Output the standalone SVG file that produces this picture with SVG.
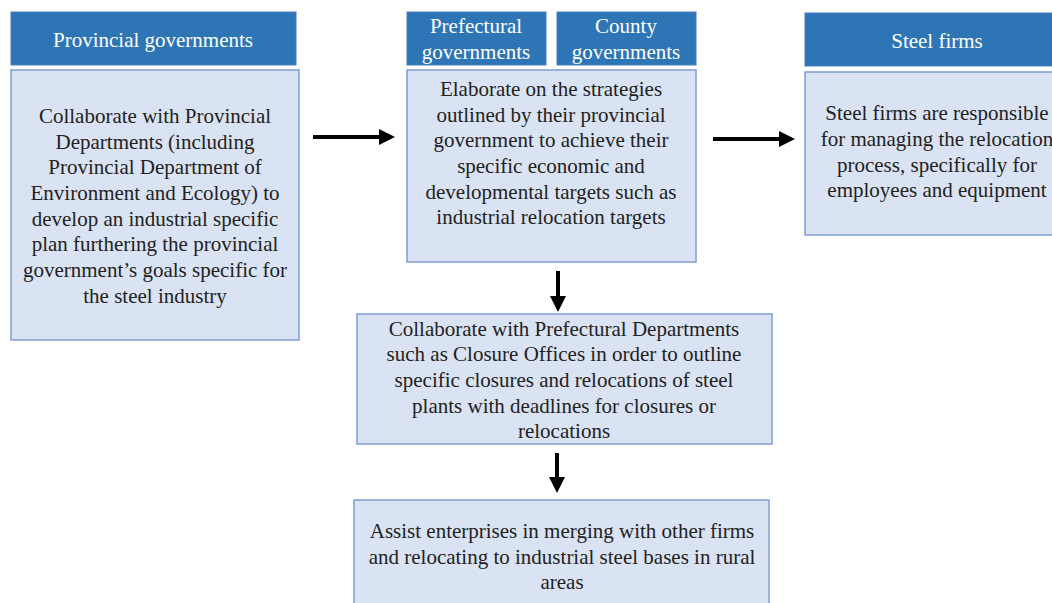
<svg xmlns="http://www.w3.org/2000/svg" width="1052" height="603" viewBox="0 0 1052 603">
<defs>
<style>
.hdr{fill:#2e75b6;stroke:#4a7fbf;stroke-width:1}
.body{fill:#dae3f3;stroke:#7f9fd2;stroke-width:1.5}
.ht{font-family:'Liberation Serif','Times New Roman',Tinos,'DejaVu Serif',serif;font-size:21px;fill:#ffffff;text-anchor:middle}
.bt{font-family:'Liberation Serif','Times New Roman',Tinos,'DejaVu Serif',serif;font-size:21px;fill:#222222;text-anchor:middle}
.arr{stroke:#000;stroke-width:4;fill:none;marker-end:url(#ah)}
</style>
<marker id="ah" markerWidth="4" markerHeight="4" refX="1" refY="2" orient="auto" markerUnits="strokeWidth">
<path d="M0,0 L4,2 L0,4 Z" fill="#000"/>
</marker>
</defs>
<rect width="1052" height="603" fill="#ffffff"/>
<g id="provincial">
<rect class="hdr" x="11" y="12" width="285" height="53"/>
<text class="ht" x="153" y="47">Provincial governments</text>
<rect class="body" x="11" y="70" width="288" height="270"/>
<text class="bt" x="155" y="123">Collaborate with Provincial</text>
<text class="bt" x="155" y="149">Departments (including</text>
<text class="bt" x="155" y="174">Provincial Department of</text>
<text class="bt" x="155" y="200">Environment and Ecology)  to</text>
<text class="bt" x="155" y="226">develop an industrial specific</text>
<text class="bt" x="155" y="251">plan furthering the provincial</text>
<text class="bt" x="155" y="277">government’s goals specific for</text>
<text class="bt" x="155" y="303">the steel industry</text>
</g>
<g id="prefectural">
<rect class="hdr" x="407" y="12" width="139" height="53"/>
<text class="ht" x="476" y="33">Prefectural</text>
<text class="ht" x="476" y="59">governments</text>
</g>
<g id="county">
<rect class="hdr" x="557" y="12" width="139" height="53"/>
<text class="ht" x="626" y="33">County</text>
<text class="ht" x="626" y="59">governments</text>
</g>
<g id="local-body">
<rect class="body" x="407" y="70" width="289" height="192"/>
<text class="bt" x="551" y="96">Elaborate on the strategies</text>
<text class="bt" x="551" y="122">outlined by their provincial</text>
<text class="bt" x="551" y="147">government to achieve their</text>
<text class="bt" x="551" y="173">specific economic and</text>
<text class="bt" x="551" y="199">developmental targets such as</text>
<text class="bt" x="551" y="224">industrial relocation targets</text>
</g>
<g id="steel">
<rect class="hdr" x="805" y="13" width="260" height="53"/>
<text class="ht" x="937" y="48">Steel firms</text>
<rect class="body" x="805" y="72" width="260" height="163"/>
<text class="bt" x="937" y="120">Steel firms are responsible</text>
<text class="bt" x="937" y="146">for managing the relocation</text>
<text class="bt" x="937" y="172">process, specifically for</text>
<text class="bt" x="937" y="197">employees and equipment</text>
</g>
<g id="closures">
<rect class="body" x="357" y="314" width="415" height="130"/>
<text class="bt" x="564" y="336">Collaborate with Prefectural Departments</text>
<text class="bt" x="564" y="361">such as Closure Offices in order to outline</text>
<text class="bt" x="564" y="387">specific closures and relocations of steel</text>
<text class="bt" x="564" y="413">plants with deadlines for closures or</text>
<text class="bt" x="564" y="438">relocations</text>
</g>
<g id="assist">
<rect class="body" x="354" y="500" width="415" height="110"/>
<text class="bt" x="562" y="538">Assist enterprises in merging with other firms</text>
<text class="bt" x="562" y="564">and relocating to industrial steel bases in rural</text>
<text class="bt" x="562" y="589">areas</text>
</g>
<g id="connectors">
<line class="arr" x1="313" y1="137" x2="383" y2="137"/>
<line class="arr" x1="713" y1="139" x2="783" y2="139"/>
<line class="arr" x1="558" y1="271" x2="558" y2="300"/>
<line class="arr" x1="557" y1="453" x2="557" y2="481"/>
</g>
</svg>
